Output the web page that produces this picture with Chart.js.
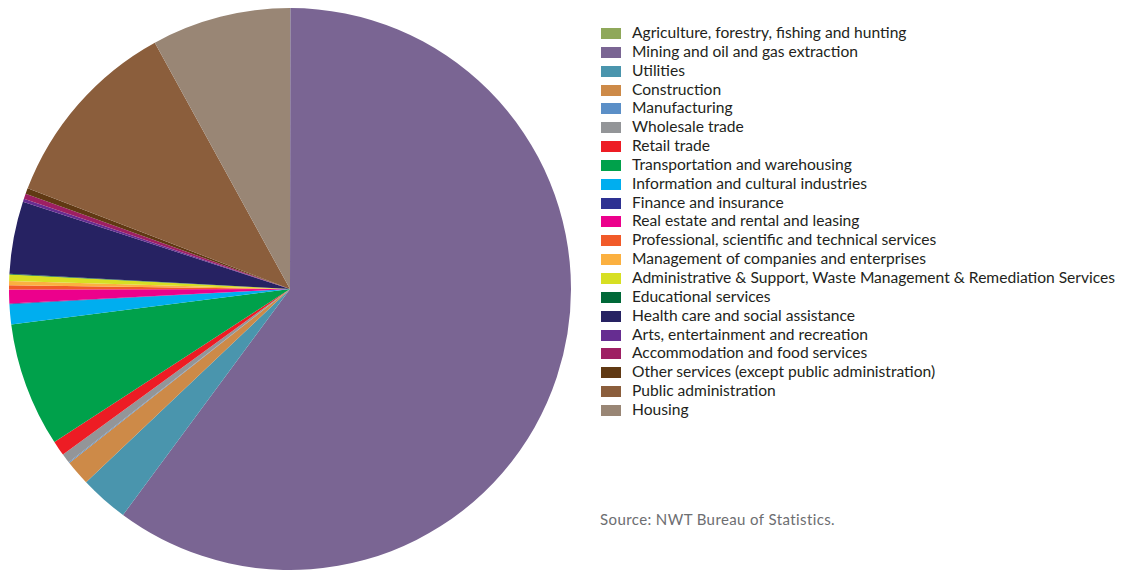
<!DOCTYPE html>
<html>
<head>
<meta charset="utf-8">
<script src="https://cdn.jsdelivr.net/npm/chart.js@4"></script>
<style>
  body { margin: 0; background: #fff; width: 1123px; height: 571px; overflow: hidden; position: relative; font-family: Lato, "Open Sans", sans-serif; }
  #pie { position: absolute; left: 9px; top: 8px; }
  #legend { position: absolute; left: 601px; top: 23px; margin: 0; padding: 0; list-style: none; }
  #legend li { height: 18.85px; line-height: 18.85px; font-size: 15.6px; color: #231f20; white-space: nowrap; }
  #legend span { display: inline-block; width: 20px; height: 11px; margin-right: 11px; vertical-align: -1px; }
  #source { position: absolute; left: 600px; top: 510px; font-size: 15px; letter-spacing: 0.4px; color: #6d6e71; }
</style>
</head>
<body>
<canvas id="pie" width="562" height="562"></canvas>
<ul id="legend"></ul>
<div id="source">Source: NWT Bureau of Statistics.</div>
<script>
// industries, share of total (%)
const industries = [
    'Agriculture, forestry, fishing and hunting',
    'Mining and oil and gas extraction',
    'Utilities',
    'Construction',
    'Manufacturing',
    'Wholesale trade',
    'Retail trade',
    'Transportation and warehousing',
    'Information and cultural industries',
    'Finance and insurance',
    'Real estate and rental and leasing',
    'Professional, scientific and technical services',
    'Management of companies and enterprises',
    'Administrative & Support, Waste Management & Remediation Services',
    'Educational services',
    'Health care and social assistance',
    'Arts, entertainment and recreation',
    'Accommodation and food services',
    'Other services (except public administration)',
    'Public administration',
    'Housing'
];
const shares = [0.02, 60.2, 2.8, 1.45, 0.05, 0.55, 0.86, 7.17, 1.14, 0.05, 0.8, 0.23, 0.25, 0.36, 0.05, 4.17, 0.17, 0.3, 0.33, 11.2, 8.0];
const sliceColors = [
    '#8fa85a', '#7a6593', '#4a95ad', '#cd8a48', '#5b8fc7', '#939598', '#ed1c24',
    '#00a14b', '#00aeef', '#2e3192', '#ec008c', '#f15a29', '#fbb040', '#d7df23',
    '#006838', '#262262', '#662d91', '#9e1f63', '#603913', '#8b5e3c', '#998675'
];

const chart = new Chart(document.getElementById('pie'), {
    type: 'pie',
    data: {
        labels: industries,
        datasets: [{
            data: shares,
            backgroundColor: sliceColors,
            borderWidth: 0
        }]
    },
    options: {
        responsive: false,
        animation: false,
        devicePixelRatio: 1,
        layout: { padding: 0 },
        plugins: {
            legend: { display: false },
            tooltip: { enabled: false }
        }
    }
});

// legend built from chart data
const ul = document.getElementById('legend');
chart.data.labels.forEach((label, i) => {
    const li = document.createElement('li');
    li.innerHTML = `<span style="background:${sliceColors[i]}"></span>${label}`;
    ul.appendChild(li);
});
</script>
</body>
</html>
